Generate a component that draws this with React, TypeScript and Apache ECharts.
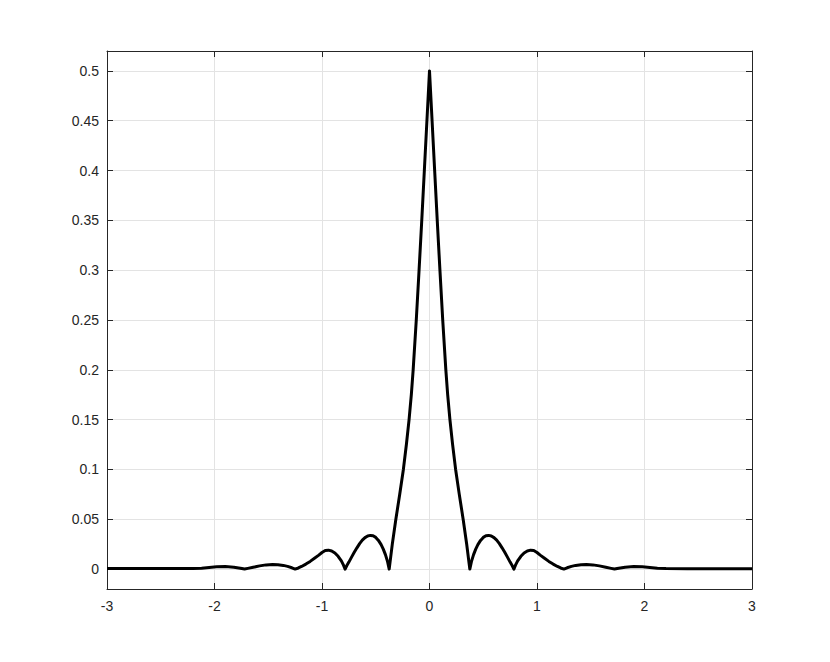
import React, { useEffect, useRef } from "react";
import * as echarts from "echarts";

// x positions and curve values
const xValues: number[] = [
  -3.0, -2.8, -2.6, -2.4, -2.2, -2.12, -2.05, -1.98, -1.9, -1.82, -1.76,
  -1.72, -1.69, -1.64, -1.58, -1.52, -1.46, -1.41, -1.36, -1.32, -1.28,
  -1.25, -1.22, -1.19, -1.15, -1.11, -1.07, -1.03, -1.0, -0.97, -0.94, -0.91, -0.88, -0.85, -0.82, -0.8,
  -0.785, -0.77, -0.75, -0.725, -0.7, -0.675, -0.65, -0.625, -0.6, -0.575, -0.55, -0.525, -0.5, -0.475, -0.45, -0.43, -0.41, -0.39,
  -0.375, -0.346, -0.313, -0.277, -0.243, -0.215, -0.19, -0.169, -0.152, -0.123, -0.097, -0.072, -0.048, -0.024,
  0,
  0.024, 0.048, 0.072, 0.097, 0.123, 0.152, 0.169, 0.19, 0.215, 0.243, 0.277, 0.313, 0.346,
  0.375, 0.39, 0.41, 0.43, 0.45, 0.475, 0.5, 0.525, 0.55, 0.575, 0.6, 0.625, 0.65, 0.675, 0.7, 0.725, 0.75, 0.77,
  0.785, 0.8, 0.82, 0.85, 0.88, 0.91, 0.94, 0.97, 1.0, 1.03, 1.07, 1.11, 1.15, 1.19, 1.22,
  1.25, 1.28, 1.32, 1.36, 1.41, 1.46, 1.52, 1.58, 1.64, 1.69,
  1.72, 1.76, 1.82, 1.9, 1.98, 2.05, 2.12, 2.2, 2.4, 2.6, 2.8, 3.0,
];

const yValues: number[] = [
  0.0006, 0.0005, 0.0006, 0.0005, 0.0006, 0.0009, 0.0016, 0.0023, 0.0025, 0.0019, 0.0009,
  0, 0.0007, 0.0018, 0.0032, 0.0042, 0.0046, 0.0044, 0.0037, 0.0027, 0.0013,
  0, 0.0011, 0.0026, 0.005, 0.0077, 0.0108, 0.014, 0.0166, 0.0186, 0.019, 0.0182, 0.0162, 0.0128, 0.0082, 0.004,
  0, 0.0033, 0.007, 0.012, 0.0168, 0.0213, 0.0255, 0.029, 0.0316, 0.0332, 0.0338, 0.0334, 0.0318, 0.0288, 0.0245, 0.02, 0.0145, 0.0075,
  0, 0.025, 0.05, 0.075, 0.1, 0.125, 0.15, 0.175, 0.2, 0.25, 0.3, 0.35, 0.4, 0.45,
  0.5,
  0.45, 0.4, 0.35, 0.3, 0.25, 0.2, 0.175, 0.15, 0.125, 0.1, 0.075, 0.05, 0.025,
  0, 0.0075, 0.0145, 0.02, 0.0245, 0.0288, 0.0318, 0.0334, 0.0338, 0.0332, 0.0316, 0.029, 0.0255, 0.0213, 0.0168, 0.012, 0.007, 0.0033,
  0, 0.004, 0.0082, 0.0128, 0.0162, 0.0182, 0.019, 0.0186, 0.0166, 0.014, 0.0108, 0.0077, 0.005, 0.0026, 0.0011,
  0, 0.0013, 0.0027, 0.0037, 0.0044, 0.0046, 0.0042, 0.0032, 0.0018, 0.0007,
  0, 0.0009, 0.0019, 0.0025, 0.0023, 0.0016, 0.0009, 0.0005, 0.0004, 0.0004, 0.0003, 0.0003,
];

const xTickLabels: number[] = [-3, -2, -1, 0, 1, 2, 3];
const yTickLabels: string[] = ["0", "0.05", "0.1", "0.15", "0.2", "0.25", "0.3", "0.35", "0.4", "0.45", "0.5"];

const AXIS_COLOR = "#262626";
const GRID_COLOR = "#e3e3e3";
const FONT = "'Liberation Sans', Arial, Helvetica, sans-serif";

function fmtY(v: number): string {
  const r = Math.round(v * 1000) / 1000;
  const s = String(r);
  return yTickLabels.indexOf(s) >= 0 ? s : "";
}

export default function App() {
  const ref = useRef<HTMLDivElement>(null);

  useEffect(() => {
    if (!ref.current) return;
    const chart = echarts.init(ref.current, undefined, { renderer: "svg" });
    const data = xValues.map((x, i) => [x, yValues[i]]);

    const xCommon = {
      type: "value" as const,
      min: -3,
      max: 3,
      interval: 1,
      axisLine: { show: true, onZero: false, lineStyle: { color: AXIS_COLOR, width: 1 } },
      axisTick: { show: true, inside: true, length: 6, lineStyle: { color: AXIS_COLOR } },
    };
    const yCommon = {
      type: "value" as const,
      min: -0.02,
      max: 0.52,
      splitNumber: 10,
      minInterval: 0.05,
      maxInterval: 0.05,
      axisLine: { show: true, onZero: false, lineStyle: { color: AXIS_COLOR, width: 1 } },
      axisTick: { show: true, inside: true, length: 6, lineStyle: { color: AXIS_COLOR } },
    };

    chart.setOption({
      animation: false,
      backgroundColor: "#ffffff",
      grid: { left: 107, right: 78, top: 51, bottom: 73, containLabel: false },
      xAxis: [
        {
          ...xCommon,
          position: "bottom",
          axisLabel: {
            show: true,
            color: AXIS_COLOR,
            fontSize: 14,
            fontFamily: FONT,
            margin: 10,
            formatter: (v: number) => (xTickLabels.indexOf(v) >= 0 ? String(v) : ""),
          },
          splitLine: { show: true, lineStyle: { color: GRID_COLOR, width: 1 } },
        },
        {
          ...xCommon,
          position: "top",
          axisLabel: { show: false },
          splitLine: { show: false },
        },
      ],
      yAxis: [
        {
          ...yCommon,
          position: "left",
          axisLabel: {
            show: true,
            color: AXIS_COLOR,
            fontSize: 14,
            fontFamily: FONT,
            margin: 8,
            showMinLabel: false,
            showMaxLabel: false,
            formatter: fmtY,
          },
          splitLine: { show: true, lineStyle: { color: GRID_COLOR, width: 1 } },
        },
        {
          ...yCommon,
          position: "right",
          axisLabel: { show: false },
          splitLine: { show: false },
        },
      ],
      series: [
        {
          type: "line",
          xAxisIndex: 0,
          yAxisIndex: 0,
          data,
          showSymbol: false,
          symbol: "none",
          smooth: false,
          lineStyle: { color: "#000000", width: 3, join: "round" },
          z: 5,
        },
      ],
    });

    return () => {
      chart.dispose();
    };
  }, []);

  return (
    <div
      ref={ref}
      style={{ position: "absolute", left: 0, top: 0, width: 830, height: 662, background: "#fff" }}
    />
  );
}
